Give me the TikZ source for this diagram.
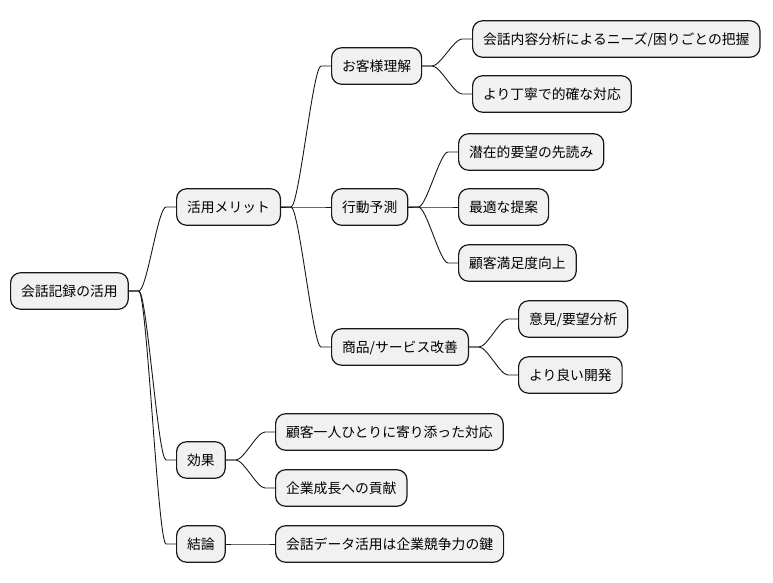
\documentclass[tikz,border=0pt]{standalone}
\usepackage{fontspec}
\newfontfamily\cjk{Noto Sans CJK JP}
\usetikzlibrary{calc}
\definecolor{boxfill}{HTML}{F1F1F1}
\definecolor{boxline}{HTML}{181818}
\begin{document}
\begin{tikzpicture}[x=1pt,y=-1pt,
  box/.style={draw=boxline, fill=boxfill, line width=1.2pt, rounded corners=10pt,
    minimum height=36.5pt, inner xsep=10.5pt, inner ysep=0pt, anchor=west,
    text height=11.5pt, text depth=1pt,
    font=\cjk\fontsize{13.8}{16}\selectfont},
  conn/.style={draw=boxline, line width=0.9pt}]
\useasboundingbox (0,0) rectangle (773,583);
\node[box] (root) at (10,291) {会話記録の活用};
\node[box] (m) at (176,207) {活用メリット};
\node[box] (a) at (331,66) {お客様理解};
\node[box] (a1) at (472,39) {会話内容分析によるニーズ/困りごとの把握};
\node[box] (a2) at (472,94) {より丁寧で的確な対応};
\node[box] (b) at (331,207) {行動予測};
\node[box] (b1) at (458,152) {潜在的要望の先読み};
\node[box] (b2) at (458,207) {最適な提案};
\node[box] (b3) at (458,263) {顧客満足度向上};
\node[box] (c) at (331,347) {商品/サービス改善};
\node[box] (c1) at (518,319) {意見/要望分析};
\node[box] (c2) at (518,375) {より良い開発};
\node[box] (e) at (176,460) {効果};
\node[box] (e1) at (275,432) {顧客一人ひとりに寄り添った対応};
\node[box] (e2) at (275,488) {企業成長への貢献};
\node[box] (k) at (176,544) {結論};
\node[box] (k1) at (275,544) {会話データ活用は企業競争力の鍵};
\newcommand\mmconn[2]{\draw[conn] (#1.east) -- ++(10,0) .. controls +(8,0) and +(-8,0) .. ($(#2.west)+(-10,0)$) -- (#2.west);}
\mmconn{root}{m}
\mmconn{root}{e}
\mmconn{root}{k}
\mmconn{m}{a}
\mmconn{m}{b}
\mmconn{m}{c}
\mmconn{a}{a1}
\mmconn{a}{a2}
\mmconn{b}{b1}
\mmconn{b}{b2}
\mmconn{b}{b3}
\mmconn{c}{c1}
\mmconn{c}{c2}
\mmconn{e}{e1}
\mmconn{e}{e2}
\mmconn{k}{k1}
\end{tikzpicture}
\end{document}
